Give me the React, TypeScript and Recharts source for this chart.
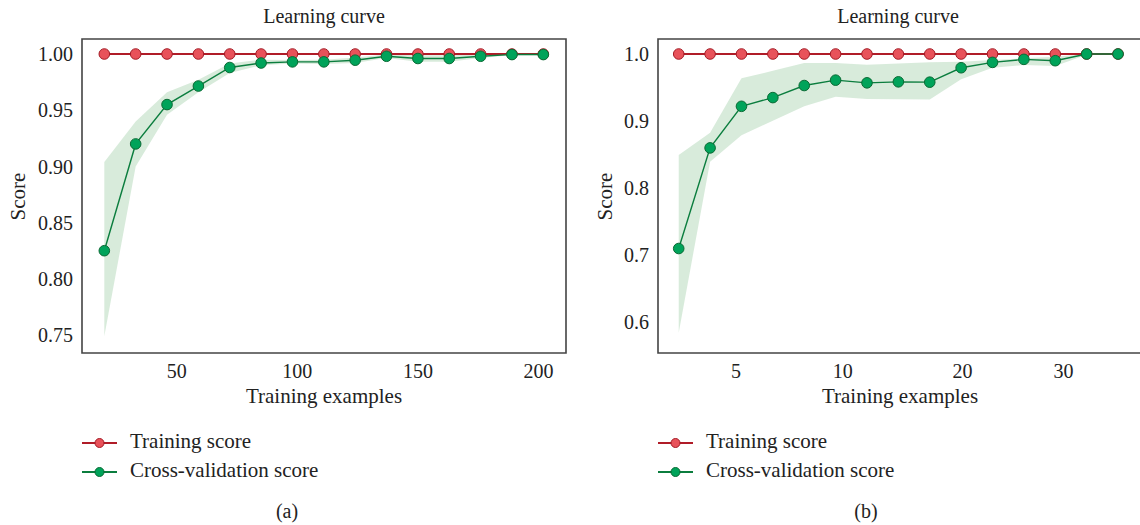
import React from 'react';
import {
  ComposedChart, Line, Area, XAxis, YAxis, ReferenceArea,
} from 'recharts';

const FONT = '"Liberation Serif", "Times New Roman", serif';

// (a) training sizes and scores
const sizesA = [20, 33, 46, 59, 72, 85, 98, 111, 124, 137, 150, 163, 176, 189, 202];
const trainA = [1, 1, 1, 1, 1, 1, 1, 1, 1, 1, 1, 1, 1, 1, 1];
const cvA = [0.825, 0.92, 0.955, 0.9715, 0.988, 0.992, 0.993, 0.993, 0.9945, 0.998, 0.996, 0.996, 0.998, 0.9995, 0.9995];
const cvLowA = [0.749, 0.9, 0.946, 0.966, 0.983, 0.99, 0.9915, 0.991, 0.992, 0.9965, 0.993, 0.993, 0.9965, 0.999, 0.999];
const cvHighA = [0.904, 0.94, 0.966, 0.977, 0.9915, 0.995, 0.9947, 0.995, 0.997, 0.9995, 0.999, 0.999, 0.9995, 1, 1];
const xTicksA = [50, 100, 150, 200];
const yTicksA = [0.75, 0.8, 0.85, 0.9, 0.95, 1.0];

// (b) point positions along the axis (labels on this axis are not evenly spaced)
const posB = [1, 2, 3, 4, 5, 6, 7, 8, 9, 10, 11, 12, 13, 14, 15];
const trainB = [1, 1, 1, 1, 1, 1, 1, 1, 1, 1, 1, 1, 1, 1, 1];
const cvB = [0.71, 0.86, 0.922, 0.935, 0.953, 0.961, 0.957, 0.9585, 0.958, 0.9795, 0.9875, 0.992, 0.99, 1.0, 1.0];
const cvLowB = [0.5845, 0.8395, 0.879, 0.9006, 0.922, 0.9364, 0.933, 0.9325, 0.932, 0.9623, 0.9796, 0.9836, 0.982, 0.999, 1.0];
const cvHighB = [0.8494, 0.8827, 0.9637, 0.975, 0.9866, 0.9866, 0.984, 0.986, 0.9876, 0.9886, 0.991, 0.9935, 0.996, 1.0, 1.0];
const xTickPosB = [2.826, 6.226, 10.04, 13.26];
const xTickLabelsB = ['5', '10', '20', '30'];
const yTicksB = [0.6, 0.7, 0.8, 0.9, 1.0];

const dataA = sizesA.map((x, i) => ({ x, train: trainA[i], cv: cvA[i], band: [cvLowA[i], cvHighA[i]] }));
const dataB = posB.map((x, i) => ({ x, train: trainB[i], cv: cvB[i], band: [cvLowB[i], cvHighB[i]] }));

const RED_LINE = '#b01c28';
const RED_FILL = '#e8525a';
const RED_EDGE = '#a51c26';
const GREEN_LINE = '#0b7d3e';
const GREEN_FILL = '#00a35a';
const GREEN_EDGE = '#0a6a34';

const textStyle: React.CSSProperties = {
  position: 'absolute',
  fontFamily: FONT,
  color: '#222',
  whiteSpace: 'nowrap',
  lineHeight: 1,
};

function Centered({ x, top, size, children }: any) {
  return (
    <div style={{ ...textStyle, left: x - 150, width: 300, top, fontSize: size, lineHeight: `${size}px`, textAlign: 'center' }}>
      {children}
    </div>
  );
}

function LegendRow({ x, y, color, fill, edge, label }: any) {
  return (
    <>
      <svg style={{ position: 'absolute', left: x, top: y - 7 }} width={36} height={14}>
        <line x1={0} y1={7} x2={35} y2={7} stroke={color} strokeWidth={2} />
        <circle cx={17.5} cy={7} r={4.5} fill={fill} stroke={edge} strokeWidth={1} />
      </svg>
      <div style={{ ...textStyle, left: x + 48, top: y - 12, fontSize: 21, lineHeight: '21px' }}>{label}</div>
    </>
  );
}

function Panel({ left, width, yAxisWidth, marginRight, data, xDomain, yDomain, xTicks, xFmt, yTicks, yFmt }: any) {
  return (
    <div style={{ position: 'absolute', left, top: 0 }}>
      <ComposedChart width={width} height={420} data={data} margin={{ top: 39, right: marginRight, bottom: 0, left: 0 }}>
        <XAxis
          type="number"
          dataKey="x"
          domain={xDomain}
          allowDataOverflow
          ticks={xTicks}
          tickFormatter={xFmt}
          interval={0}
          axisLine={false}
          tickLine={false}
          tickSize={0}
          tickMargin={11}
          height={67}
          tick={{ fontSize: 20, fill: '#222', fontFamily: FONT }}
        />
        <YAxis
          type="number"
          domain={yDomain}
          allowDataOverflow
          ticks={yTicks}
          tickFormatter={yFmt}
          interval={0}
          axisLine={false}
          tickLine={false}
          tickSize={0}
          tickMargin={9}
          width={yAxisWidth}
          tick={{ fontSize: 20, fill: '#222', fontFamily: FONT }}
        />
        <Area
          type="linear"
          dataKey="band"
          stroke="none"
          fill="#3a9d4a"
          fillOpacity={0.2}
          dot={false}
          activeDot={false}
          isAnimationActive={false}
        />
        <Line
          type="linear"
          dataKey="train"
          stroke={RED_LINE}
          strokeWidth={2}
          dot={{ r: 5.3, fill: RED_FILL, stroke: RED_EDGE, strokeWidth: 1 }}
          activeDot={false}
          isAnimationActive={false}
        />
        <Line
          type="linear"
          dataKey="cv"
          stroke={GREEN_LINE}
          strokeWidth={1.4}
          dot={{ r: 5.3, fill: GREEN_FILL, stroke: GREEN_EDGE, strokeWidth: 1 }}
          activeDot={false}
          isAnimationActive={false}
        />
        <ReferenceArea
          x1={xDomain[0]}
          x2={xDomain[1]}
          y1={yDomain[0]}
          y2={yDomain[1]}
          fill="none"
          stroke="#444"
          strokeWidth={1.6}
          ifOverflow="visible"
        />
      </ComposedChart>
    </div>
  );
}

export default function App() {
  return (
    <div style={{ position: 'absolute', left: 0, top: 0, width: 1140, height: 525, overflow: 'hidden', background: '#fff' }}>
      <Panel
        left={0}
        width={580}
        yAxisWidth={82}
        marginRight={14}
        data={dataA}
        xDomain={[10.75, 211.4]}
        yDomain={[0.734, 1.01335]}
        xTicks={xTicksA}
        xFmt={(v: number) => String(v)}
        yTicks={yTicksA}
        yFmt={(v: number) => v.toFixed(2)}
      />
      <Panel
        left={580}
        width={562}
        yAxisWidth={78}
        marginRight={1}
        data={dataB}
        xDomain={[0.34, 15.732]}
        yDomain={[0.55423, 1.02236]}
        xTicks={xTickPosB}
        xFmt={(v: number) => xTickLabelsB[xTickPosB.indexOf(v)] ?? ''}
        yTicks={yTicksB}
        yFmt={(v: number) => v.toFixed(1)}
      />

      <Centered x={324} top={6} size={20}>Learning curve</Centered>
      <Centered x={898} top={6} size={20}>Learning curve</Centered>

      <Centered x={324} top={386} size={21}>Training examples</Centered>
      <Centered x={900} top={386} size={21}>Training examples</Centered>

      <div style={{ ...textStyle, left: 18 - 50, top: 196 - 10, width: 100, fontSize: 21, lineHeight: '21px', textAlign: 'center', transform: 'rotate(-90deg)' }}>Score</div>
      <div style={{ ...textStyle, left: 605 - 50, top: 196 - 10, width: 100, fontSize: 21, lineHeight: '21px', textAlign: 'center', transform: 'rotate(-90deg)' }}>Score</div>

      <LegendRow x={82} y={443} color={RED_LINE} fill={RED_FILL} edge={RED_EDGE} label="Training score" />
      <LegendRow x={82} y={472} color={GREEN_LINE} fill={GREEN_FILL} edge={GREEN_EDGE} label="Cross-validation score" />
      <LegendRow x={658} y={443} color={RED_LINE} fill={RED_FILL} edge={RED_EDGE} label="Training score" />
      <LegendRow x={658} y={472} color={GREEN_LINE} fill={GREEN_FILL} edge={GREEN_EDGE} label="Cross-validation score" />

      <Centered x={287} top={501} size={20}>(a)</Centered>
      <Centered x={866} top={501} size={20}>(b)</Centered>
    </div>
  );
}
